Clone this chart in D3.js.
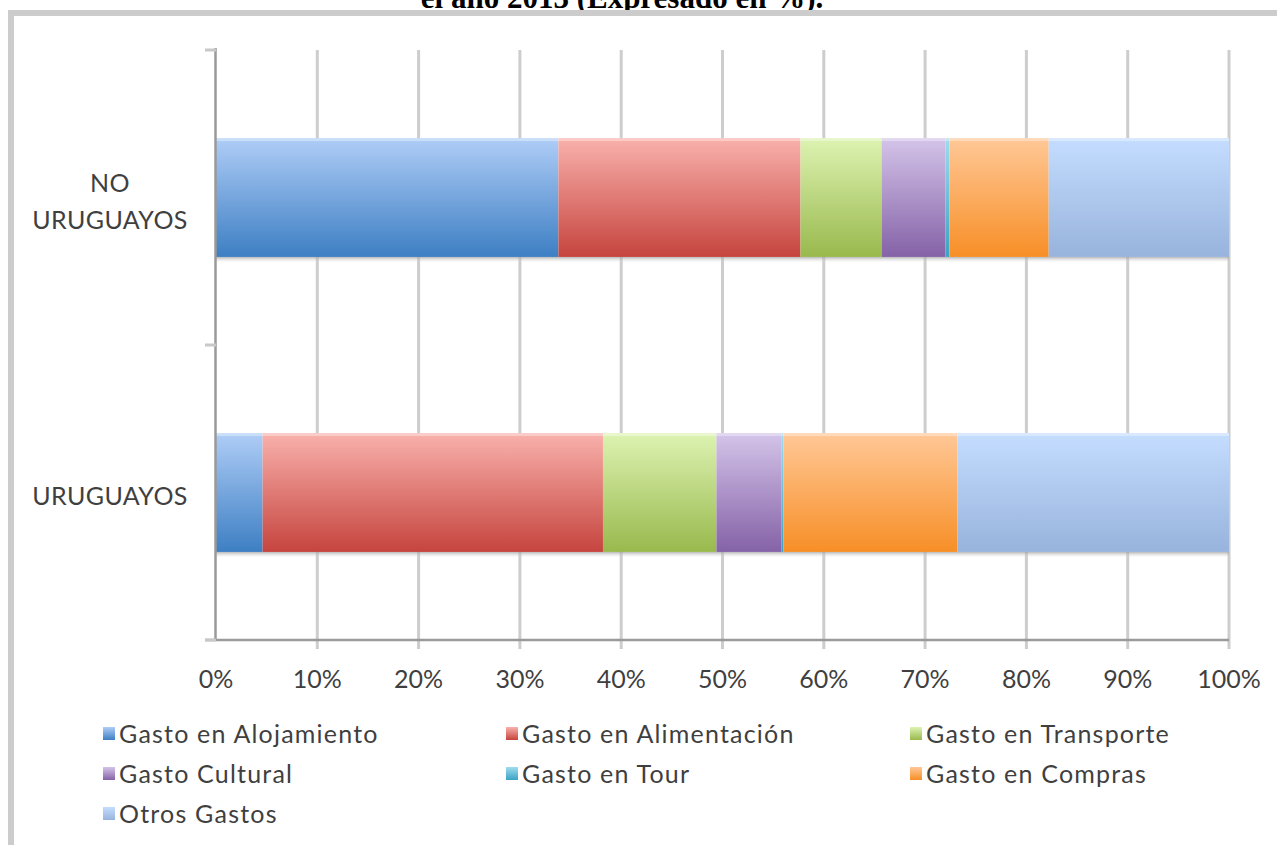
<!DOCTYPE html>
<html><head><meta charset="utf-8">
<script src="https://cdn.jsdelivr.net/npm/d3@7"></script>
<style>
html,body{margin:0;padding:0;background:#fff;overflow:hidden;}
svg{display:block;}
</style></head>
<body>
<svg id="c" width="1277" height="845"></svg>
<script>
// ---- data ----
const categories = ["NO URUGUAYOS", "URUGUAYOS"];
const seriesNames = ["Gasto en Alojamiento","Gasto en Alimentación","Gasto en Transporte","Gasto Cultural","Gasto en Tour","Gasto en Compras","Otros Gastos"];
const noUruguayos = [33.8, 23.9, 8.0, 6.3, 0.4, 9.8, 17.8];
const uruguayos   = [4.6, 33.6, 11.2, 6.4, 0.2, 17.2, 26.8];
const xTickValues = [0,10,20,30,40,50,60,70,80,90,100];
const xTickLabels = ["0%","10%","20%","30%","40%","50%","60%","70%","80%","90%","100%"];
const titleText = "el año 2013 (Expresado en %).";
const colorsTop    = ["#afcdf7","#f9b1ac","#ddf3b2","#d4c4e9","#9fdcee","#ffc897","#c4ddff"];
const colorsBottom = ["#3d7fc3","#c6443e","#99b94d","#8562a7","#3ba3c4","#f78f27","#98b3dc"];

const valuesByCat = {"NO URUGUAYOS": noUruguayos, "URUGUAYOS": uruguayos};

const svg = d3.select("#c");
const font = "Lato, 'Open Sans', sans-serif";
const textColor = "#3f3f3f";

// gradients
const defs = svg.append("defs");
seriesNames.forEach((s,i)=>{
  const g = defs.append("linearGradient").attr("id","g"+i).attr("x1",0).attr("y1",0).attr("x2",0).attr("y2",1);
  g.append("stop").attr("offset","0%").attr("stop-color",colorsTop[i]);
  g.append("stop").attr("offset","100%").attr("stop-color",colorsBottom[i]);
});
const sh = defs.append("linearGradient").attr("id","shadow").attr("x1",0).attr("y1",0).attr("x2",0).attr("y2",1);
sh.append("stop").attr("offset","0%").attr("stop-color","#999").attr("stop-opacity",0.7);
sh.append("stop").attr("offset","100%").attr("stop-color","#ddd").attr("stop-opacity",0.1);

// title (cut at top, as in the reference)
svg.append("text").attr("x",622).attr("y",8).attr("text-anchor","middle")
  .attr("font-family","'Liberation Serif', 'Times New Roman', serif").attr("font-weight","bold")
  .attr("font-size",31).attr("fill","#000").text(titleText);

// frame
svg.append("rect").attr("x",11).attr("y",13).attr("width",1290).attr("height",860)
  .attr("fill","none").attr("stroke","#cccccc").attr("stroke-width",6);

// scales
const x = d3.scaleLinear().domain([0,100]).range([216,1229]);
const y = d3.scaleBand().domain(categories).range([50,640]).padding(0);
const barH = y.bandwidth()*0.403;

// gridlines
svg.append("g").selectAll("line").data(xTickValues.slice(1)).join("line")
  .attr("x1",d=>x(d)).attr("x2",d=>x(d)).attr("y1",50).attr("y2",649)
  .attr("stroke","#cdcdcd").attr("stroke-width",3);

// bars
categories.forEach(cat=>{
  const vals = valuesByCat[cat];
  let cum = 0;
  const y0 = y(cat) + (y.bandwidth()-barH)/2;
  svg.append("rect").attr("x",x(0)).attr("y",y0+barH).attr("width",x(100)-x(0)).attr("height",5)
    .attr("fill","url(#shadow)");
  const segs = vals.map((v,i)=>{const s={i,start:cum,v}; cum+=v; return s;});
  svg.append("g").selectAll("rect").data(segs).join("rect")
    .attr("x",d=>x(d.start)).attr("y",y0)
    .attr("width",d=>x(d.start+d.v)-x(d.start)).attr("height",barH)
    .attr("fill",d=>"url(#g"+d.i+")");
  svg.append("rect").attr("x",x(0)).attr("y",y0).attr("width",x(100)-x(0)).attr("height",3)
    .attr("fill","#fff").attr("opacity",0.35);
});

// x axis
const xAxis = svg.append("g").attr("transform","translate(0,640)");
xAxis.append("line").attr("x1",205).attr("x2",x(100)).attr("y1",0).attr("y2",0)
  .attr("stroke","#9a9a9a").attr("stroke-width",2.5);
xAxis.selectAll("text").data(xTickValues).join("text")
  .attr("x",d=>x(d)).attr("y",48).attr("text-anchor","middle")
  .attr("font-family",font).attr("font-size",25).attr("fill",textColor)
  .text((d,i)=>xTickLabels[i]);

// y axis
const yAxis = svg.append("g");
yAxis.append("line").attr("x1",215.5).attr("x2",215.5).attr("y1",48).attr("y2",641)
  .attr("stroke","#9a9a9a").attr("stroke-width",2.5);
const yTicks = [50, y(categories[1]), 640];
yAxis.selectAll("line.t").data(yTicks).join("line").attr("class","t")
  .attr("x1",205).attr("x2",216).attr("y1",d=>d).attr("y2",d=>d)
  .attr("stroke","#c8c8c8").attr("stroke-width",3);

// category labels
const labelLines = {"NO URUGUAYOS":["NO","URUGUAYOS"], "URUGUAYOS":["URUGUAYOS"]};
categories.forEach(cat=>{
  const lines = labelLines[cat];
  const cy = y(cat)+y.bandwidth()/2;
  const lh = 37;
  lines.forEach((ln,j)=>{
    svg.append("text").attr("x",110).attr("y",cy + 9 + (j-(lines.length-1)/2)*lh + (lines.length>1?4:3))
      .attr("text-anchor","middle").attr("font-family",font).attr("font-size",25)
      .attr("letter-spacing",0.4).attr("fill",textColor).text(ln);
  });
});

// legend
const legCols = [103, 506, 910];
const legRows = [734, 774, 814];
const leg = svg.append("g");
seriesNames.forEach((s,i)=>{
  const cx = legCols[i%3], cy = legRows[Math.floor(i/3)];
  leg.append("rect").attr("x",cx).attr("y",cy-7).attr("width",12).attr("height",13).attr("fill","url(#g"+i+")");
  leg.append("text").attr("x",cx+16).attr("y",cy+9).attr("font-family",font).attr("font-size",25)
    .attr("letter-spacing",1.2).attr("fill",textColor).text(s);
});
</script>
</body></html>
